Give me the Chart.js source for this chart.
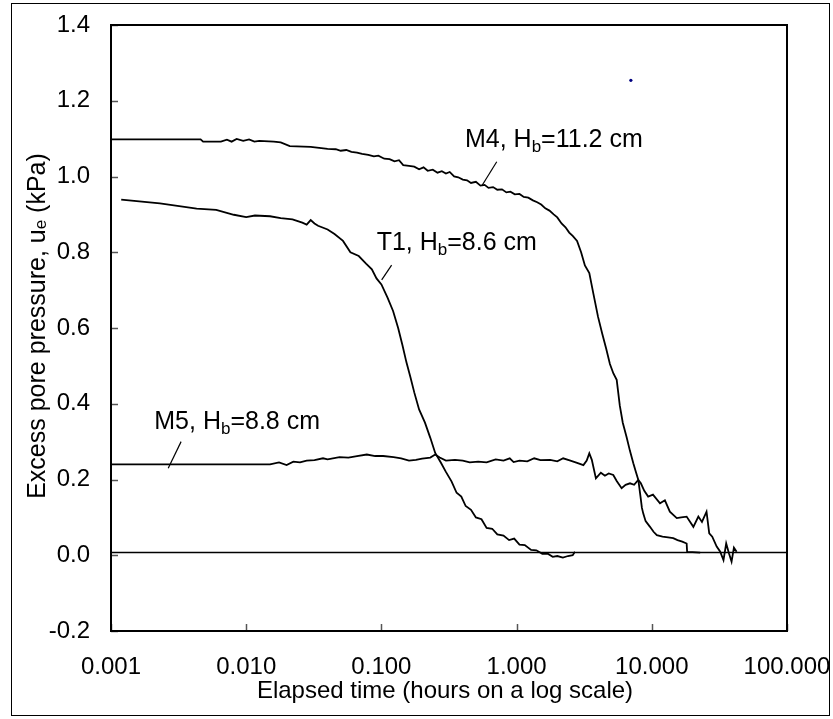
<!DOCTYPE html>
<html>
<head>
<meta charset="utf-8">
<script src="https://cdn.jsdelivr.net/npm/chart.js@4.4.1/dist/chart.umd.min.js"></script>
<style>
html, body { margin: 0; padding: 0; background: #fff; }
#wrap { width: 833px; height: 719px; position: relative; }
</style>
</head>
<body>
<div id="wrap"><canvas id="theViz" width="833" height="719"></canvas></div>
<script>
// decade ticks on the time axis (hours)
const timeTicks = [0.001, 0.01, 0.1, 1, 10, 100];

// [time (h), excess pore pressure (kPa)]
const m4Points = [
    [0.001, 1.098], [0.0046, 1.098], [0.0048, 1.092], [0.0065, 1.092], [0.0072, 1.097],
    [0.0078, 1.092], [0.0085, 1.099], [0.0095, 1.094], [0.0105, 1.098], [0.0115, 1.092],
    [0.0125, 1.094], [0.016, 1.092], [0.018, 1.090], [0.021, 1.080], [0.03, 1.078],
    [0.04, 1.073], [0.046, 1.072], [0.05, 1.068], [0.055, 1.070], [0.06, 1.065],
    [0.066, 1.063], [0.072, 1.060], [0.08, 1.057], [0.088, 1.053], [0.095, 1.055],
    [0.105, 1.047], [0.115, 1.046], [0.125, 1.040], [0.135, 1.043], [0.145, 1.030],
    [0.16, 1.028], [0.175, 1.026], [0.19, 1.019], [0.205, 1.024], [0.22, 1.015],
    [0.24, 1.018], [0.26, 1.010], [0.28, 1.014], [0.3, 1.008], [0.32, 1.012],
    [0.345, 1.000], [0.37, 0.998], [0.4, 0.992], [0.43, 0.990], [0.46, 0.983],
    [0.5, 0.986], [0.54, 0.976], [0.58, 0.978], [0.62, 0.970], [0.67, 0.972],
    [0.72, 0.965], [0.78, 0.966], [0.84, 0.958], [0.9, 0.960], [0.97, 0.953],
    [1.05, 0.954], [1.13, 0.946], [1.22, 0.944], [1.32, 0.937], [1.42, 0.932],
    [1.52, 0.926], [1.63, 0.916], [1.75, 0.910], [1.88, 0.900], [2.0, 0.892],
    [2.15, 0.876], [2.3, 0.866], [2.45, 0.852], [2.6, 0.843], [2.8, 0.830],
    [3.0, 0.800], [3.2, 0.765], [3.45, 0.745], [3.7, 0.690], [4.0, 0.630],
    [4.3, 0.585], [4.6, 0.545], [4.9, 0.505], [5.2, 0.480], [5.5, 0.463],
    [5.8, 0.395], [6.1, 0.350], [6.5, 0.313], [6.9, 0.275], [7.3, 0.243],
    [7.6, 0.222], [7.95, 0.199], [8.25, 0.155], [8.45, 0.125], [8.65, 0.110],
    [9.0, 0.090], [9.7, 0.075], [10.3, 0.062], [10.9, 0.053], [12.0, 0.049],
    [13.2, 0.047], [14.4, 0.045], [15.5, 0.040], [16.8, 0.036], [18.1, 0.031],
    [18.25, 0.009], [20.0, 0.008], [22.8, 0.007]
];

const t1Points = [
    [0.00119, 0.939], [0.0023, 0.929], [0.0043, 0.915], [0.006, 0.912], [0.0081, 0.899],
    [0.01, 0.893], [0.0116, 0.897], [0.015, 0.895], [0.018, 0.890], [0.022, 0.887],
    [0.026, 0.878], [0.028, 0.873], [0.030, 0.885], [0.032, 0.876], [0.034, 0.870],
    [0.04, 0.860], [0.045, 0.848], [0.052, 0.830], [0.059, 0.800], [0.068, 0.790],
    [0.077, 0.770], [0.085, 0.755], [0.092, 0.731], [0.1, 0.715], [0.111, 0.680],
    [0.122, 0.645], [0.133, 0.600], [0.143, 0.555], [0.153, 0.510], [0.164, 0.470],
    [0.175, 0.430], [0.19, 0.385], [0.21, 0.350], [0.23, 0.310], [0.25, 0.270],
    [0.275, 0.245], [0.30, 0.220], [0.33, 0.195], [0.36, 0.165], [0.39, 0.155],
    [0.42, 0.130], [0.46, 0.120], [0.5, 0.100], [0.55, 0.095], [0.6, 0.072],
    [0.66, 0.070], [0.72, 0.055], [0.8, 0.052], [0.88, 0.040], [0.96, 0.044],
    [1.05, 0.028], [1.15, 0.027], [1.28, 0.014], [1.4, 0.013], [1.55, 0.004],
    [1.7, 0.004], [1.85, -0.004], [2.0, -0.002], [2.2, -0.006], [2.4, -0.002],
    [2.6, 0.000], [2.7, 0.009]
];

const m5Points = [
    [0.001, 0.240], [0.015, 0.240], [0.0175, 0.245], [0.0199, 0.238], [0.0223, 0.247],
    [0.025, 0.245], [0.028, 0.250], [0.032, 0.251], [0.037, 0.256], [0.040, 0.253],
    [0.049, 0.259], [0.057, 0.258], [0.066, 0.262], [0.078, 0.266], [0.09, 0.262],
    [0.103, 0.262], [0.123, 0.259], [0.14, 0.256], [0.16, 0.250], [0.18, 0.252],
    [0.2, 0.255], [0.23, 0.258], [0.25, 0.266], [0.27, 0.258], [0.30, 0.250],
    [0.35, 0.252], [0.4, 0.250], [0.45, 0.245], [0.52, 0.247], [0.6, 0.245],
    [0.7, 0.253], [0.8, 0.250], [0.89, 0.256], [0.95, 0.246], [1.05, 0.250],
    [1.2, 0.248], [1.35, 0.256], [1.5, 0.251], [1.77, 0.252], [2.0, 0.248],
    [2.21, 0.256], [2.5, 0.250], [2.8, 0.244], [3.12, 0.238], [3.3, 0.250],
    [3.45, 0.269], [3.6, 0.252], [3.86, 0.203], [4.2, 0.218], [4.5, 0.210],
    [4.8, 0.216], [5.19, 0.212], [5.5, 0.196], [5.98, 0.177], [6.4, 0.186],
    [6.9, 0.190], [7.4, 0.186], [7.94, 0.199], [8.3, 0.190], [8.8, 0.170],
    [9.4, 0.155], [10.2, 0.160], [11.5, 0.137], [12.5, 0.145], [13.6, 0.115],
    [15.3, 0.098], [16.5, 0.100], [18.1, 0.102], [20.3, 0.075], [22.1, 0.102],
    [23.5, 0.088], [25.4, 0.115], [26.6, 0.058], [28.0, 0.049], [30.2, 0.023],
    [32.0, 0.010], [33.9, -0.013], [35.5, 0.031], [37.2, 0.005], [38.9, -0.017],
    [40.5, 0.020], [42.4, 0.009]
];

const zeroLine = [[0.001, 0.007], [100, 0.007]];
const m4Leader = [[0.713, 1.039], [0.552, 0.975]];
const t1Leader = [[0.119, 0.766], [0.1005, 0.727]];
const m5Leader = [[0.0033, 0.300], [0.00265, 0.230]];
const stray = [[7.0, 1.254]];

// curve labels: text before, subscript, text after, anchored at (time, value) baseline-left
const curveLabels = [
    { pre: 'M4, H', sub: 'b', post: '=11.2 cm', t: 0.415, v: 1.079 },
    { pre: 'T1, H', sub: 'b', post: '=8.6 cm', t: 0.0923, v: 0.806 },
    { pre: 'M5, H', sub: 'b', post: '=8.8 cm', t: 0.00209, v: 0.3325 }
];

const FONT = "'Liberation Sans', Arial, sans-serif";
const toXY = pts => pts.map(p => ({ x: p[0], y: p[1] }));

function line(pts, width) {
    return {
        data: toXY(pts),
        showLine: true,
        borderColor: '#000000',
        borderWidth: width,
        pointRadius: 0,
        tension: 0,
        fill: false
    };
}

function drawSubText(ctx, x, y, pre, sub, post, size) {
    ctx.font = size + 'px ' + FONT;
    ctx.fillText(pre, x, y);
    x += ctx.measureText(pre).width;
    ctx.font = Math.round(size * 0.68) + 'px ' + FONT;
    ctx.fillText(sub, x, y + size * 0.2);
    x += ctx.measureText(sub).width;
    ctx.font = size + 'px ' + FONT;
    ctx.fillText(post, x, y);
}

const framePlugin = {
    id: 'frame',
    afterDraw(chart) {
        const ctx = chart.ctx;
        const a = chart.chartArea;
        const xs = chart.scales.x, ys = chart.scales.y;
        ctx.save();
        // tick marks pointing inward
        ctx.strokeStyle = '#555555';
        ctx.lineWidth = 1.5;
        timeTicks.forEach(v => {
            const px = Math.round(xs.getPixelForValue(v)) + 0.5;
            ctx.beginPath(); ctx.moveTo(px, a.bottom); ctx.lineTo(px, a.bottom - 7); ctx.stroke();
        });
        ys.ticks.forEach(t => {
            const py = Math.round(ys.getPixelForValue(t.value)) + 0.5;
            ctx.beginPath(); ctx.moveTo(a.left, py); ctx.lineTo(a.left + 7, py); ctx.stroke();
        });
        // plot frame
        ctx.strokeStyle = '#000000';
        ctx.lineWidth = 2;
        ctx.strokeRect(a.left, a.top, a.right - a.left, a.bottom - a.top);
        // curve labels
        ctx.fillStyle = '#000000';
        ctx.textBaseline = 'alphabetic';
        ctx.textAlign = 'left';
        curveLabels.forEach(l => {
            drawSubText(ctx, xs.getPixelForValue(l.t), ys.getPixelForValue(l.v), l.pre, l.sub, l.post, 25);
        });
        // axis titles
        ctx.font = '24px ' + FONT;
        ctx.textAlign = 'center';
        ctx.textBaseline = 'middle';
        ctx.fillText('Elapsed time (hours on a log scale)', (a.left + a.right) / 2 - 4, 691);
        ctx.translate(38, (a.top + a.bottom) / 2 - 2);
        ctx.rotate(-Math.PI / 2);
        ctx.textAlign = 'left';
        ctx.textBaseline = 'middle';
        const pre = 'Excess pore pressure, u', post = ' (kPa)';
        ctx.font = '25px ' + FONT;
        const w1 = ctx.measureText(pre).width, w3 = ctx.measureText(post).width;
        ctx.font = '17px ' + FONT;
        const w2 = ctx.measureText('e').width;
        let x0 = -(w1 + w2 + w3) / 2;
        ctx.font = '25px ' + FONT;
        ctx.fillText(pre, x0, 0);
        ctx.font = '17px ' + FONT;
        ctx.fillText('e', x0 + w1, 3);
        ctx.font = '25px ' + FONT;
        ctx.fillText(post, x0 + w1 + w2, 0);
        ctx.restore();
        // outer chart border
        ctx.save();
        ctx.strokeStyle = '#000000';
        ctx.lineWidth = 1;
        ctx.strokeRect(11.5, 3.5, 818, 712);
        ctx.restore();
    }
};

const ctx = document.getElementById('theViz').getContext('2d');
window.theViz = new Chart(ctx, {
    type: 'scatter',
    data: {
        datasets: [
            line(zeroLine, 1.5),
            line(m5Points, 1.8),
            line(t1Points, 1.8),
            line(m4Points, 1.8),
            line(m4Leader, 1.2),
            line(t1Leader, 1.2),
            line(m5Leader, 1.2),
            {
                data: toXY(stray),
                pointRadius: 1.6,
                pointBackgroundColor: '#000080',
                pointBorderWidth: 0,
                showLine: false
            }
        ]
    },
    plugins: [framePlugin],
    options: {
        responsive: false,
        animation: false,
        events: [],
        layout: { padding: { left: 0, top: 25, right: 46, bottom: 0 } },
        plugins: {
            legend: { display: false },
            tooltip: { enabled: false }
        },
        scales: {
            x: {
                type: 'logarithmic',
                min: 0.001,
                max: 100,
                afterBuildTicks: scale => { scale.ticks = timeTicks.map(v => ({ value: v })); },
                afterFit: scale => {
                    scale.height = 88;
                    scale.paddingLeft = 0;
                    scale.paddingRight = 0;
                },
                grid: { display: false },
                border: { display: false },
                ticks: {
                    autoSkip: false,
                    maxRotation: 0,
                    padding: 14,
                    color: '#000000',
                    font: { family: FONT, size: 24 },
                    callback: v => Number(v).toFixed(3)
                }
            },
            y: {
                min: -0.2,
                max: 1.4,
                afterFit: scale => {
                    scale.width = 111;
                    scale.paddingTop = 0;
                    scale.paddingBottom = 0;
                },
                grid: { display: false },
                border: { display: false },
                ticks: {
                    stepSize: 0.2,
                    padding: 13,
                    color: '#000000',
                    font: { family: FONT, size: 24 },
                    callback: v => (Math.abs(v) < 1e-9 ? 0 : v).toFixed(1)
                }
            }
        }
    }
});
</script>
</body>
</html>
